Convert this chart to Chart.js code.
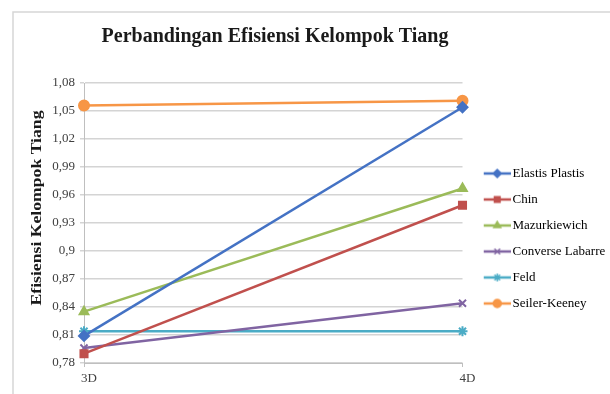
<!DOCTYPE html>
<html>
<head>
<meta charset="utf-8">
<script src="https://cdn.jsdelivr.net/npm/chart.js@4/dist/chart.umd.min.js"></script>
<style>
  html, body { margin: 0; padding: 0; background: #fff; }
  #wrap { width: 610px; height: 394px; }
</style>
</head>
<body>
<div id="wrap"><canvas id="efisiensi" width="610" height="394"></canvas></div>
<script>
// ********************* data ***********************
const labels = ['3D', '4D'];

const elastisPlastis = [0.809, 1.054];
const chin = [0.790, 0.949];
const mazurkiewich = [0.835, 0.967];
const converseLabarre = [0.796, 0.844];
const feld = [0.814, 0.814];
const seilerKeeney = [1.056, 1.061];

const yTicks = { min: 0.78, max: 1.08, step: 0.03 };

const serif = "'Liberation Serif', 'Times New Roman', serif";

// legend swatch: short line with the marker in the middle
function swatch(color, style) {
    const c = document.createElement('canvas');
    c.width = 40;
    c.height = 12;
    const ctx = c.getContext('2d');
    ctx.strokeStyle = color;
    ctx.fillStyle = color;
    ctx.lineWidth = 2.5;
    ctx.beginPath();
    ctx.moveTo(13, 6);
    ctx.lineTo(40, 6);
    ctx.stroke();
    ctx.lineWidth = 1.5;
    Chart.helpers.drawPoint(ctx, { pointStyle: style, radius: 4, rotation: 0, borderWidth: 1.5 }, 26.5, 6);
    return c;
}

function series(label, data, color, style) {
    return {
        label: label,
        data: data,
        borderColor: color,
        backgroundColor: color,
        borderWidth: 2.5,
        pointStyle: style,
        pointRadius: 5,
        pointBorderWidth: 2,
        pointHoverRadius: 5,
        legendSwatch: swatch(color, style),
        tension: 0
    };
}

// ********************* titles and frame ***********************
const textPlugin = {
    id: 'textPlugin',
    beforeDraw(chart) {
        const ctx = chart.ctx;
        ctx.save();
        ctx.strokeStyle = '#d6d6d6';
        ctx.lineWidth = 1.5;
        ctx.beginPath();
        ctx.moveTo(13, 394);
        ctx.lineTo(13, 12);
        ctx.lineTo(610, 12);
        ctx.stroke();
        ctx.restore();
    },
    afterDraw(chart) {
        const ctx = chart.ctx;
        ctx.save();
        ctx.fillStyle = '#1a1a1a';
        ctx.textAlign = 'center';
        ctx.textBaseline = 'middle';
        ctx.font = 'bold 20px ' + serif;
        ctx.fillText('Perbandingan Efisiensi Kelompok Tiang', 275, 37);
        // axis title, stretched along its length to 195px
        const yTitle = 'Efisiensi Kelompok Tiang';
        ctx.font = 'bold 15px ' + serif;
        ctx.translate(37, 208);
        ctx.rotate(-Math.PI / 2);
        ctx.scale(195 / ctx.measureText(yTitle).width, 1);
        ctx.fillText(yTitle, 0, 0);
        ctx.restore();
    }
};

const data = {
    labels: labels,
    datasets: [
        series('Elastis Plastis', elastisPlastis, '#4472C4', 'rectRot'),
        series('Chin', chin, '#C0504D', 'rect'),
        series('Mazurkiewich', mazurkiewich, '#9BBB59', 'triangle'),
        series('Converse Labarre', converseLabarre, '#8064A2', 'crossRot'),
        series('Feld', feld, '#4BACC6', 'star'),
        series('Seiler-Keeney', seilerKeeney, '#F79646', 'circle')
    ]
};

const config = {
    type: 'line',
    data: data,
    plugins: [textPlugin],
    options: {
        responsive: false,
        animation: false,
        layout: { padding: { top: 83, left: 20, right: 0, bottom: 0 } },
        plugins: {
            tooltip: { enabled: false },
            legend: {
                position: 'right',
                labels: {
                    usePointStyle: true,
                    pointStyleWidth: 30.5,
                    padding: 13,
                    color: '#1a1a1a',
                    font: { family: serif, size: 13 },
                    generateLabels(chart) {
                        return chart.data.datasets.map((ds, i) => ({
                            text: ds.label,
                            pointStyle: ds.legendSwatch,
                            fillStyle: ds.borderColor,
                            strokeStyle: ds.borderColor,
                            lineWidth: 0,
                            hidden: false,
                            datasetIndex: i
                        }));
                    }
                }
            }
        },
        scales: {
            x: {
                offset: false,
                afterFit(scale) { scale.height = 31; },
                border: { display: true, color: '#bfbfbf', width: 1 },
                grid: { drawOnChartArea: false, drawTicks: true, tickLength: 4, color: '#bfbfbf' },
                ticks: { color: '#404040', font: { family: serif, size: 13 }, padding: 4, labelOffset: 5 }
            },
            y: {
                min: yTicks.min,
                max: yTicks.max,
                afterFit(scale) { scale.width = 64; },
                border: { display: true, color: '#bfbfbf', width: 1 },
                grid: { color: '#d4d4d4', lineWidth: 1.5, tickLength: 4 },
                ticks: {
                    stepSize: yTicks.step,
                    color: '#404040',
                    padding: 5,
                    font: { family: serif, size: 13 },
                    callback: v => parseFloat(v.toFixed(2)).toString().replace('.', ',')
                }
            }
        }
    }
};

const efisiensi = new Chart(
    document.getElementById('efisiensi'),
    config
);
</script>
</body>
</html>
